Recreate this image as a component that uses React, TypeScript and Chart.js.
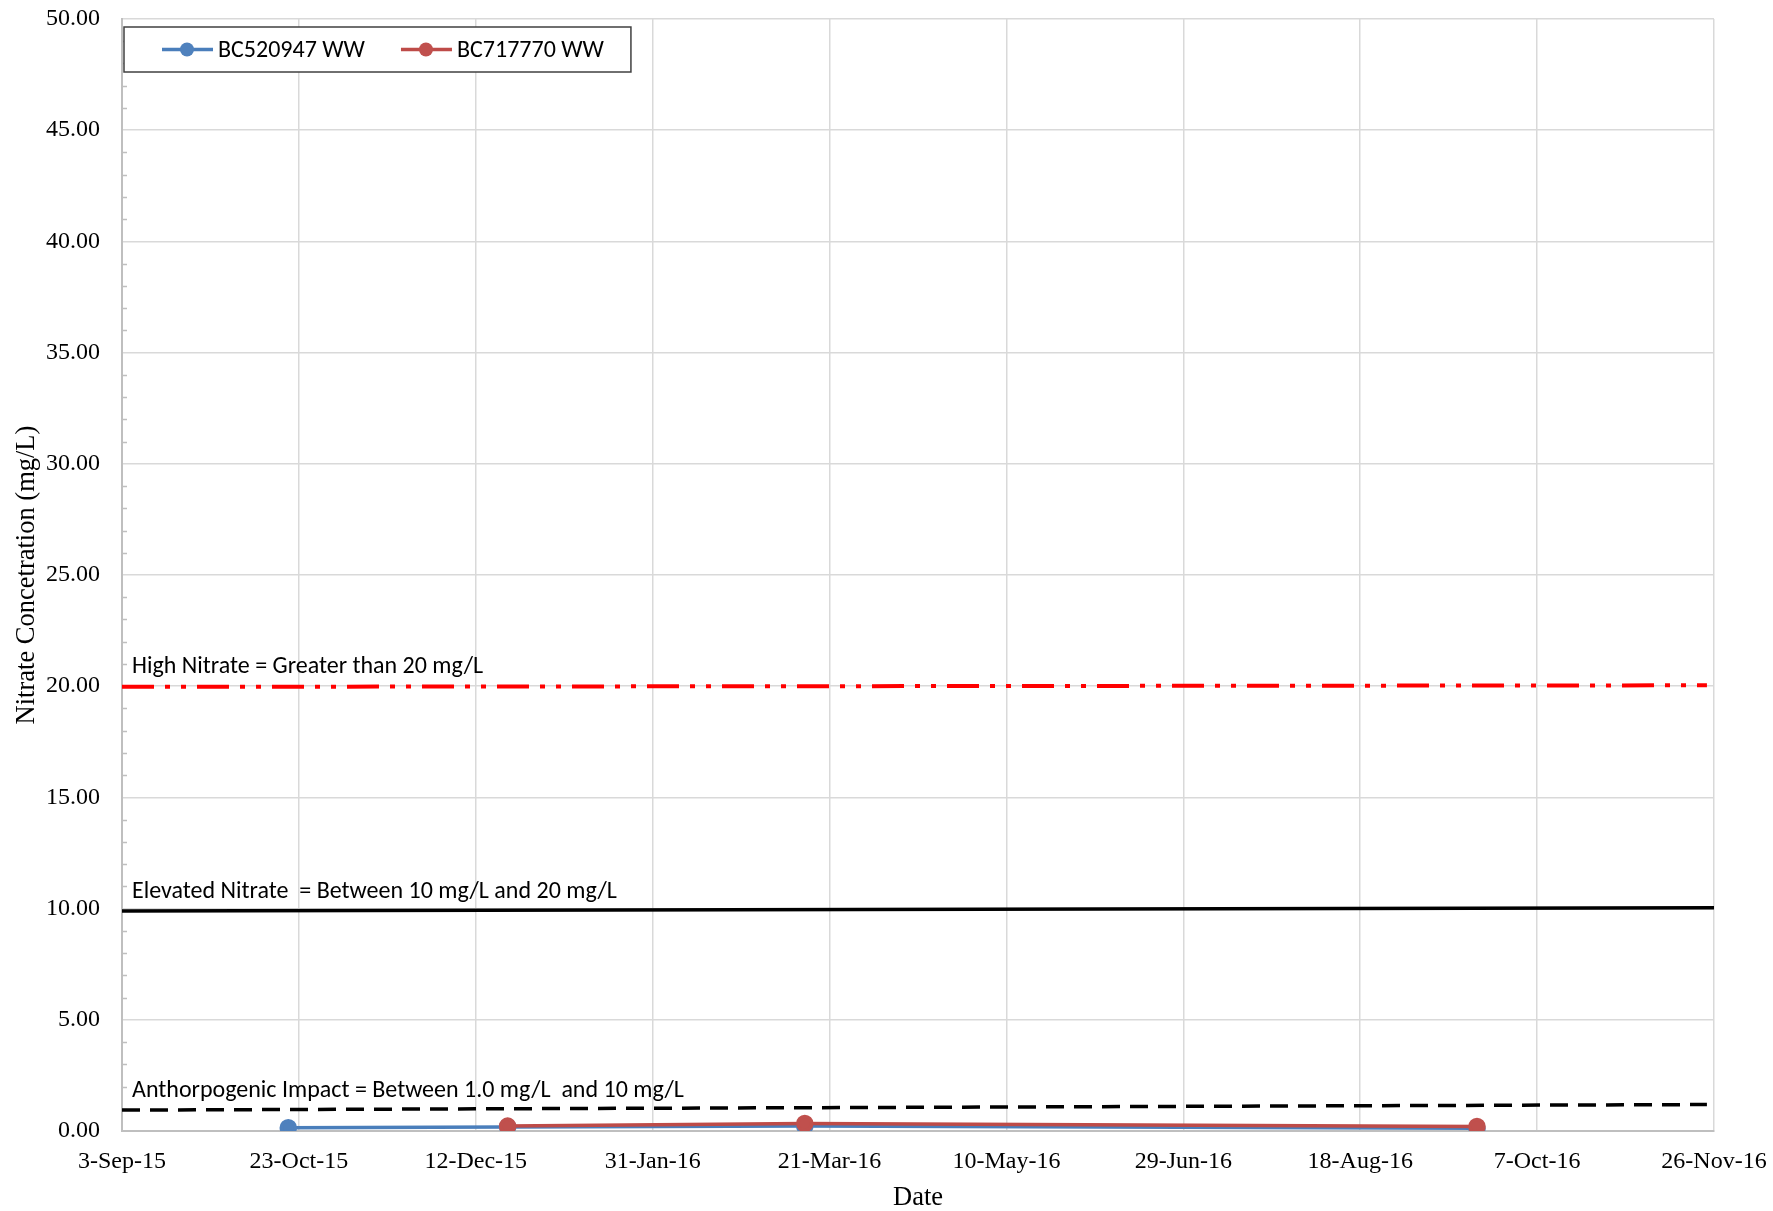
import React, { useEffect, useRef } from "react";
import { Chart, registerables } from "chart.js";

Chart.register(...registerables);

// ---- Data ----
const AXIS_START = "2015-09-03";
const AXIS_DAYS = 450;
const X_TICK_STEP = 50;
const Y_MIN = 0;
const Y_MAX = 50;
const Y_STEP = 5;
const Y_MINOR_STEP = 1;

const seriesNames = ["BC520947 WW", "BC717770 WW"];

const blueDates = ["2015-10-20", "2015-12-21", "2016-03-14", "2016-09-20"];
const blueValues = [0.15, 0.18, 0.22, 0.12];

const redDates = ["2015-12-21", "2016-03-14", "2016-09-20"];
const redValues = [0.22, 0.34, 0.2];

const highDates = ["2015-09-03", "2016-11-24"];
const highValues = [19.97, 20.04];

const elevatedDates = ["2015-09-03", "2016-11-26"];
const elevatedValues = [9.89, 10.04];

const anthroDates = ["2015-09-03", "2016-11-24"];
const anthroValues = [0.94, 1.19];

const annotationTexts = [
  "High Nitrate = Greater than 20 mg/L",
  "Elevated Nitrate  = Between 10 mg/L and 20 mg/L",
  "Anthorpogenic Impact = Between 1.0 mg/L  and 10 mg/L",
];
// each label sits just above the left end of its threshold line
const annotationValues = [highValues[0], elevatedValues[0], anthroValues[0]];

const MONTHS = ["Jan", "Feb", "Mar", "Apr", "May", "Jun", "Jul", "Aug", "Sep", "Oct", "Nov", "Dec"];

// ---- Helpers ----
const DAY = 86400000;
const startMs = Date.parse(AXIS_START + "T00:00:00Z");
const toDays = (s: string) => (Date.parse(s + "T00:00:00Z") - startMs) / DAY;
const fmtDate = (days: number) => {
  const d = new Date(startMs + Math.round(days) * DAY);
  return `${d.getUTCDate()}-${MONTHS[d.getUTCMonth()]}-${String(d.getUTCFullYear()).slice(2)}`;
};
const pts = (dates: string[], values: number[]) => dates.map((d, i) => ({ x: toDays(d), y: values[i] }));

const SERIF = "'Liberation Serif', 'Times New Roman', serif";
const SANS = "Carlito, Calibri, Lato, 'Open Sans', sans-serif";
const BLUE = "#4F81BD";
const BLUE_LINE = "#4A7EBB";
const RED = "#C0504D";
const RED_LINE = "#BE4B48";

const overlayPlugin = {
  id: "overlay",
  beforeDatasetsDraw(chart: any) {
    const { ctx, chartArea } = chart;
    const y = chart.scales.y;
    ctx.save();
    ctx.strokeStyle = "#bfbfbf";
    ctx.lineWidth = 1.5;
    for (let v = Y_MIN; v <= Y_MAX; v += Y_MINOR_STEP) {
      if (v % Y_STEP === 0) continue;
      const py = Math.round(y.getPixelForValue(v)) + 0.5;
      ctx.beginPath();
      ctx.moveTo(chartArea.left, py);
      ctx.lineTo(chartArea.left + 5, py);
      ctx.stroke();
    }
    ctx.font = `24px ${SANS}`;
    ctx.fillStyle = "#000";
    ctx.textBaseline = "middle";
    ctx.textAlign = "left";
    annotationTexts.forEach((t, i) => {
      ctx.fillText(t, chartArea.left + 10, y.getPixelForValue(annotationValues[i]) - 19.5);
    });
    ctx.restore();
  },
  afterDraw(chart: any) {
    const { ctx, chartArea } = chart;
    ctx.save();
    ctx.font = `24px ${SANS}`;
    const bx = chartArea.left + 2;
    const by = chartArea.top + 8;
    const bh = 45;
    const colors = [
      [BLUE_LINE, BLUE],
      [RED_LINE, RED],
    ];
    let x = bx + 38;
    const items: any[] = [];
    seriesNames.forEach((name, i) => {
      const w = ctx.measureText(name).width;
      items.push({ x, name, c: colors[i] });
      x = x + 56 + w + 36;
    });
    const bw = x - 36 + 27 - bx;
    ctx.fillStyle = "#fff";
    ctx.fillRect(bx, by, bw, bh);
    ctx.strokeStyle = "#404040";
    ctx.lineWidth = 1.5;
    ctx.strokeRect(bx, by, bw, bh);
    const cy = by + bh / 2;
    items.forEach((it) => {
      ctx.strokeStyle = it.c[0];
      ctx.lineWidth = 3.5;
      ctx.beginPath();
      ctx.moveTo(it.x, cy);
      ctx.lineTo(it.x + 51, cy);
      ctx.stroke();
      ctx.fillStyle = it.c[1];
      ctx.beginPath();
      ctx.arc(it.x + 25, cy, 7, 0, Math.PI * 2);
      ctx.fill();
      ctx.fillStyle = "#000";
      ctx.textBaseline = "middle";
      ctx.fillText(it.name, it.x + 56, cy + 1);
    });
    ctx.restore();
  },
};

export default function App() {
  const ref = useRef<HTMLCanvasElement | null>(null);
  useEffect(() => {
    document.body.style.margin = "0";
    if (!ref.current) return;
    const tickFont = { family: SERIF, size: 24 };
    const titleFont = { family: SERIF, size: 26.5 };
    const chart = new Chart(ref.current, {
      type: "line",
      data: {
        datasets: [
          {
            label: seriesNames[0],
            data: pts(blueDates, blueValues),
            borderColor: BLUE_LINE,
            backgroundColor: BLUE,
            pointBackgroundColor: BLUE,
            pointBorderColor: BLUE,
            pointRadius: 7,
            borderWidth: 3.5,
            order: 1,
          },
          {
            label: seriesNames[1],
            data: pts(redDates, redValues),
            borderColor: RED_LINE,
            backgroundColor: RED,
            pointBackgroundColor: RED,
            pointBorderColor: RED,
            pointRadius: 7,
            borderWidth: 3.5,
            order: 0,
          },
          {
            label: "High",
            data: pts(highDates, highValues),
            borderColor: "#ff0000",
            borderWidth: 4,
            borderDash: [32, 11, 5, 11, 5, 11],
            pointRadius: 0,
            order: 2,
          },
          {
            label: "Elevated",
            data: pts(elevatedDates, elevatedValues),
            borderColor: "#000",
            borderWidth: 3.5,
            pointRadius: 0,
            order: 2,
          },
          {
            label: "Anthropogenic",
            data: pts(anthroDates, anthroValues),
            borderColor: "#000",
            borderWidth: 3.5,
            borderDash: [18, 10],
            pointRadius: 0,
            order: 2,
          },
        ],
      },
      options: {
        responsive: false,
        animation: false,
        devicePixelRatio: 1,
        layout: { padding: { top: 19, right: 59, left: 0, bottom: 0 } },
        plugins: { legend: { display: false }, tooltip: { enabled: false } },
        scales: {
          x: {
            type: "linear",
            min: 0,
            max: AXIS_DAYS,
            ticks: {
              stepSize: X_TICK_STEP,
              callback: (v: any) => fmtDate(Number(v)),
              font: tickFont,
              color: "#000",
              padding: 16,
              maxRotation: 0,
              autoSkip: false,
            },
            grid: { color: "#d9d9d9", lineWidth: 1.5, drawTicks: false },
            border: { color: "#bfbfbf", width: 2 },
            title: { display: true, text: "Date", font: titleFont, color: "#000", padding: { top: 0, bottom: -3 } },
            afterFit: (s: any) => {
              s.height = 80;
              s.paddingLeft = 0;
              s.paddingRight = 0;
              s.paddingTop = 0;
              s.paddingBottom = 0;
            },
          },
          y: {
            min: Y_MIN,
            max: Y_MAX,
            ticks: {
              stepSize: Y_STEP,
              callback: (v: any) => Number(v).toFixed(2),
              font: tickFont,
              color: "#000",
              padding: 22,
            },
            grid: { color: "#d9d9d9", lineWidth: 1.5, drawTicks: false },
            border: { color: "#bfbfbf", width: 2 },
            title: {
              display: true,
              text: "Nitrate Concetration (mg/L)",
              font: titleFont,
              color: "#000",
              padding: { top: 11, bottom: 0 },
            },
            afterFit: (s: any) => {
              s.width = 122;
              s.paddingLeft = 0;
              s.paddingRight = 0;
              s.paddingTop = 0;
              s.paddingBottom = 0;
            },
          },
        },
      },
      plugins: [overlayPlugin],
    } as any);
    return () => chart.destroy();
  }, []);
  return (
    <div style={{ width: 1773, height: 1211 }}>
      <canvas ref={ref} width={1773} height={1211} style={{ display: "block" }} />
    </div>
  );
}
